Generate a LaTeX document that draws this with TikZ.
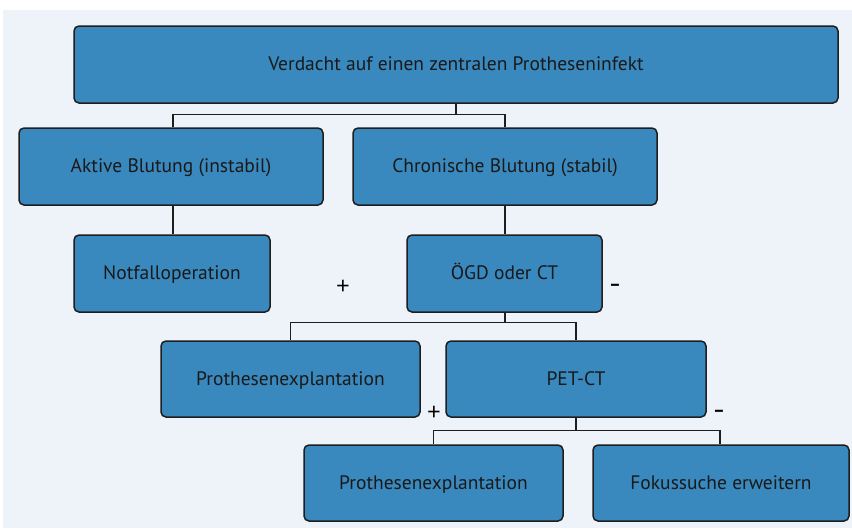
\documentclass[tikz,border=0pt]{standalone}
\usepackage{fontspec}
\setmainfont{PT Sans}
\newfontfamily\signfont{Open Sans}
\definecolor{bgc}{RGB}{238,242,249}
\definecolor{boxc}{RGB}{58,137,190}
\definecolor{linec}{RGB}{30,30,30}
\begin{document}
\begin{tikzpicture}[x=1pt,y=-1pt,
  box/.style={draw=linec, line width=1.5pt, fill=boxc, rounded corners=5pt, inner sep=0pt,
    text height=14pt, text depth=1.5pt,
    font=\fontsize{19.5}{22}\selectfont, text=black!90},
  conn/.style={draw=linec, line width=1.4pt},
  sign/.style={font=\signfont\fontsize{24}{28}\selectfont, inner sep=0pt},
  dashsign/.style={font=\fontsize{18}{22}\selectfont\bfseries, inner sep=0pt}]
\useasboundingbox (0,0) rectangle (852,531);
\fill[bgc] (3,10) rectangle (852,528);
\node[box, minimum width=764pt, minimum height=77pt] (top) at (456,64.5) {Verdacht auf einen zentralen Protheseninfekt};
\node[box, minimum width=304pt, minimum height=77pt] (akt) at (171,166.5) {Aktive Blutung (instabil)};
\node[box, minimum width=304pt, minimum height=77pt] (chr) at (505,166.5) {Chronische Blutung (stabil)};
\node[box, minimum width=196pt, minimum height=77pt] (not) at (172,273.5) {Notfalloperation};
\node[box, minimum width=195pt, minimum height=77pt] (ogd) at (504.5,273.5) {ÖGD oder CT};
\node[box, minimum width=259pt, minimum height=76pt] (pe1) at (290.5,379) {Prothesenexplantation};
\node[box, minimum width=260pt, minimum height=76pt] (pet) at (576,379) {PET-CT};
\node[box, minimum width=259pt, minimum height=76pt] (pe2) at (433.5,483) {Prothesenexplantation};
\node[box, minimum width=256pt, minimum height=76pt] (fok) at (721,483) {Fokussuche erweitern};
\draw[conn] (top.south) -- ++(0,10.5) coordinate (t1);
\draw[conn] (akt.north -| 173,0) |- (t1) -| (chr.north);
\draw[conn] (akt.south -| 173,0) -- (not.north -| 173,0);
\draw[conn] (chr.south) -- (ogd.north -| chr.south);
\draw[conn] (ogd.south -| chr.south) -- ++(0,10) coordinate (o1);
\draw[conn] (pe1.north) |- (o1) -| (pet.north);
\draw[conn] (pet.south) -- ++(0,13) coordinate (p1);
\draw[conn] (pe2.north) |- (p1) -| (fok.north -| 720,0);
\node[sign] (plus1) at (343,287) {+};
\node[dashsign] (minus1) at (615,287) {–};
\node[sign] (plus2) at (434,413) {+};
\node[dashsign] (minus2) at (719,413) {–};
\end{tikzpicture}
\end{document}
